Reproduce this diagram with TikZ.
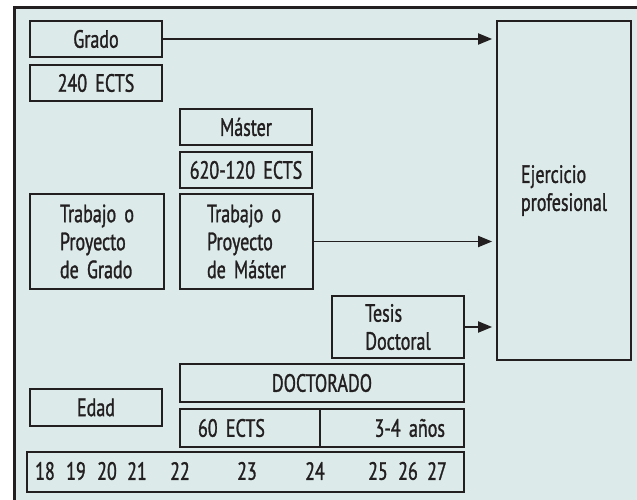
\documentclass[tikz,border=0pt]{standalone}
\usepackage{fontspec}
\setmainfont{PT Sans}[FakeStretch=0.72, FakeBold=1.2, WordSpace=1.7]
\usepackage{xcolor}
\usepackage{tikz}
\usetikzlibrary{arrows.meta, positioning, calc}
\definecolor{paleteal}{HTML}{DCEBEA}
\definecolor{inkblack}{HTML}{231F20}

\tikzset{
  box/.style={draw=inkblack, line width=1.7pt, rectangle, inner sep=0pt,
    font=\fontsize{25}{28}\selectfont, text=inkblack},
  txt/.style={inner sep=0pt, font=\fontsize{25}{28}\selectfont, text=inkblack},
  arrow/.style={draw=inkblack, line width=1.8pt,
    -{Triangle[length=14pt, width=11pt]}, shorten >=4pt}
}

\begin{document}
\begin{tikzpicture}[x=1pt, y=-1pt]
  \useasboundingbox (0,0) rectangle (637,500);

  % Background panel (cut off at right and bottom)
  \fill[paleteal] (15,8) rectangle (637,500);
  \draw[inkblack, line width=2.6pt] (14.3,500) -- (14.3,7.3) -- (637,7.3);

  % Grado column
  \node[box, minimum width=132, minimum height=36] (grado) at (96,39) {Grado};
  \node[box, minimum width=132, minimum height=36] (ects240) at (96,83) {240 ECTS};
  \node[box, minimum width=134, minimum height=95, align=left] (tfg) at (97,241.5)
    {Trabajo o\\Proyecto\\de Grado};

  % Master column
  \node[box, minimum width=132, minimum height=36] (master) at (246,127) {Máster};
  \node[box, minimum width=132, minimum height=36] (ects620) at (246,170) {620-120 ECTS};
  \node[box, minimum width=133, minimum height=95, align=left] (tfm) at (246.5,241.5)
    {Trabajo o\\Proyecto\\de Máster};

  % Doctorado
  \node[box, minimum width=132, minimum height=62, align=left] (tesis) at (398,327)
    {Tesis\\Doctoral};
  \node[box, minimum width=284, minimum height=38] (doctorado) at (322,383) {DOCTORADO};
  \node[box, text width=104, inner xsep=18pt, minimum height=38, align=left]
    (ects60) at (250,428) {60 ECTS};
  \node[box, text width=106, inner xsep=19pt, minimum height=38, align=right]
    (anos) at (392,428) {3-4 años};

  % Ejercicio profesional
  \node[box, minimum width=134, minimum height=339, align=left] (ejercicio) at (564,190.5)
    {Ejercicio\\profesional};

  % Ages
  \node[box, minimum width=132, minimum height=37] (edad) at (96,407.5) {Edad};
  \node[box, minimum width=437, minimum height=40] (edades) at (245.5,472) {};
  \foreach \a/\x in {18/45, 19/76, 20/107, 21/137, 22/180, 23/247, 24/315, 25/378, 26/408, 27/437}
    \node[txt] (age\a) at (\x,471) {\a};

  % Arrows to Ejercicio profesional
  \draw[arrow] (grado.east) -- (grado.east -| ejercicio.west);
  \draw[arrow] (tfm.east) -- (tfm.east -| ejercicio.west);
  \draw[arrow] (tesis.east) -- (tesis.east -| ejercicio.west);
\end{tikzpicture}
\end{document}
